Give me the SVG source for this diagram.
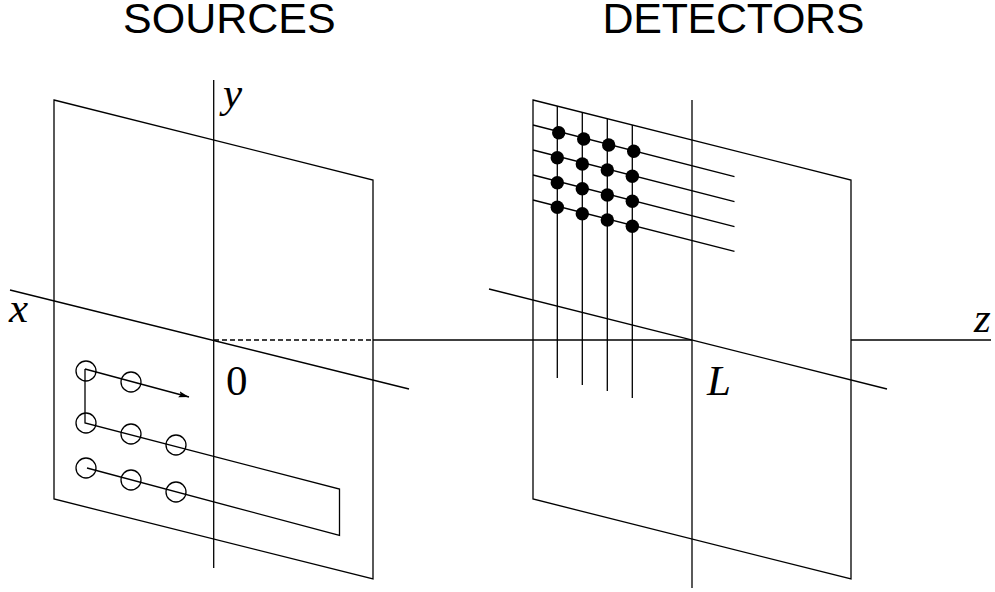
<svg xmlns="http://www.w3.org/2000/svg" width="995" height="592" viewBox="0 0 995 592">
<defs>
<marker id="arr" markerUnits="userSpaceOnUse" markerWidth="12" markerHeight="8" refX="10.5" refY="4" orient="auto"><path d="M0,0.8 L10.5,4 L0,7.2 L2,4 Z" fill="#000"/></marker>
</defs>
<style>
.l{fill:none;stroke:#000;stroke-width:1.3}
.s{fill:none;stroke:#000;stroke-width:1.3}
.d{fill:#000;stroke:none}
.h{font-family:"Liberation Sans",Arial,sans-serif;font-size:43px;fill:#000}
.m{font-family:"Liberation Serif","Times New Roman",serif;font-size:43px;fill:#000}
.i{font-style:italic}
</style>
<rect width="995" height="592" fill="#fff"/>
<g id="connectors">
<path class="l" d="M213.7 80V568"/>
<path class="l" d="M692 100V588"/>
<path class="l" d="M10 290L409 389"/>
<path class="l" d="M489 289L887 389"/>
<path class="l" stroke-dasharray="5 3" d="M214 340H373"/>
<path class="l" d="M373 340H692"/>
<path class="l" d="M851 340H991"/>
<path class="l" d="M557.3 106V378M582.3 112V385M607.3 119V391M632.3 125V398"/>
<path class="l" d="M533 125L734.5 176.7M533 150L734.5 201.7M533 175L734.5 226.7M533 200L734.5 251.3"/>
<path class="s" d="M87 468L339.500 535.500V489L85 423V369"/>
<path class="s" marker-end="url(#arr)" d="M85 369L189 397"/>
</g>
<g id="source-plane"><path class="l" d="M54 100L373 180V579L54 499Z"/></g>
<g id="detector-plane"><path class="l" d="M533 100L851 180V579L533 499Z"/></g>
<g id="sources">
<circle class="s" cx="86" cy="371" r="10"/><circle class="s" cx="131" cy="382" r="10"/>
<circle class="s" cx="86" cy="423" r="10"/><circle class="s" cx="131" cy="434" r="10"/><circle class="s" cx="176" cy="445" r="10"/>
<circle class="s" cx="86" cy="468" r="10"/><circle class="s" cx="131" cy="480" r="10"/><circle class="s" cx="176" cy="492" r="10"/>
</g>
<g id="detectors">
<circle class="d" cx="558.700" cy="132.700" r="6.700"/><circle class="d" cx="583.700" cy="139" r="6.700"/><circle class="d" cx="608.700" cy="145" r="6.700"/><circle class="d" cx="633.700" cy="151.300" r="6.700"/>
<circle class="d" cx="557.300" cy="157.700" r="6.700"/><circle class="d" cx="582.300" cy="164" r="6.700"/><circle class="d" cx="607.300" cy="170" r="6.700"/><circle class="d" cx="632.300" cy="176.300" r="6.700"/>
<circle class="d" cx="557.300" cy="182.700" r="6.700"/><circle class="d" cx="582.300" cy="188.700" r="6.700"/><circle class="d" cx="607.300" cy="195" r="6.700"/><circle class="d" cx="632.300" cy="201.300" r="6.700"/>
<circle class="d" cx="557.300" cy="207.300" r="6.700"/><circle class="d" cx="582.300" cy="213.700" r="6.700"/><circle class="d" cx="607.300" cy="220" r="6.700"/><circle class="d" cx="632.300" cy="226.300" r="6.700"/>
</g>
<g id="labels">
<text class="h" x="123" y="32.500">SOURCES</text>
<text class="h" x="602.500" y="32.500" letter-spacing="-0.3">DETECTORS</text>
<text class="m i" x="223" y="107">y</text>
<text class="m i" x="9" y="322">x</text>
<text class="m i" x="974" y="332">z</text>
<text class="m" x="226" y="395">0</text>
<text class="m i" x="707" y="395">L</text>
</g>
</svg>
